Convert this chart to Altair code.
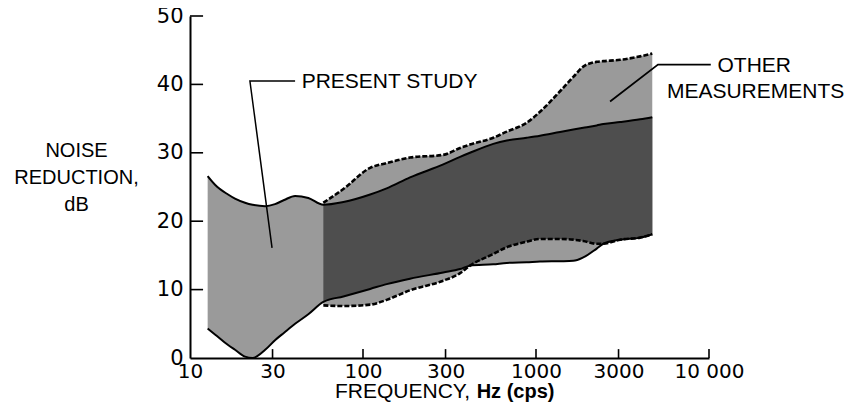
import altair as alt
import pandas as pd
import numpy as np

# ---- data (frequency in Hz, noise reduction in dB) ----
# Present study, low-frequency part (only present study exists here)
low_freq = [12.65, 14, 16.6, 18.2, 20.8, 23, 27.2, 31, 35, 40.5, 48.3]
low_upper = [26.6, 25.3, 23.9, 23.3, 22.7, 22.4, 22.2, 22.5, 23.1, 23.7, 23.4]
low_lower = [4.3, 3.4, 1.9, 1.2, 0.2, 0.0, 1.2, 2.6, 3.7, 5.0, 6.4]

# Common frequencies where both bands exist
freq = [59, 77, 110, 137, 187, 291, 364, 415, 566, 678, 883, 1055, 1377,
        1643, 1876, 2244, 2450, 3063, 4000, 4700]
present_upper = [22.4, 22.8, 23.9, 24.8, 26.4, 28.3, 29.4, 30.0, 31.3, 31.8,
                 32.2, 32.5, 33.05, 33.4, 33.65, 34.0, 34.2, 34.5, 34.9, 35.2]
present_lower = [8.2, 9.0, 10.1, 10.8, 11.6, 12.5, 13.0, 13.5, 13.7, 13.9,
                 14.0, 14.1, 14.15, 14.2, 14.7, 16.0, 16.7, 17.3, 17.6, 18.1]
other_upper = [22.7, 24.7, 27.8, 28.5, 29.3, 29.7, 30.7, 31.2, 32.2, 33.1,
               34.4, 36.0, 39.0, 41.1, 42.6, 43.3, 43.4, 43.6, 44.1, 44.5]
other_lower = [7.7, 7.6, 7.8, 8.5, 9.9, 11.3, 12.4, 13.5, 15.2, 16.2,
               17.0, 17.4, 17.4, 17.3, 17.1, 16.7, 16.7, 17.3, 17.6, 18.1]

# axis ticks
x_tick_values = [10, 30, 100, 300, 1000, 3000, 10000]
x_inner_ticks = [30, 100, 300, 1000, 3000, 10000]
y_tick_values = [0, 10, 20, 30, 40, 50]
y_inner_ticks = [10, 20, 30, 40, 50]

# annotations (data coordinates)
present_leader_f = [40.5, 22.2, 29.8]
present_leader_db = [40.5, 40.5, 16.1]
other_leader_f = [10240, 5070, 2680]
other_leader_db = [42.9, 42.9, 37.5]
label_text = ["PRESENT  STUDY", "OTHER", "MEASUREMENTS", "FREQUENCY,"]
label_f = [44.2, 11200, 5710, 68.9]
label_db = [40.3, 42.7, 38.9, -5.0]
bold_text = ["Hz (cps)"]
bold_f = [454]
bold_db = [-5.0]

# ---- tables ----
present = pd.DataFrame({
    "f": low_freq + freq,
    "lo": low_lower + present_lower,
    "hi": low_upper + present_upper,
})
other = pd.DataFrame({"f": freq, "lo": other_lower, "hi": other_upper})
overlap = pd.DataFrame({
    "f": freq,
    "lo": np.maximum(present_lower, other_lower),
    "hi": np.minimum(present_upper, other_upper),
})
pl = pd.DataFrame({"f": present_leader_f, "db": present_leader_db, "i": range(3)})
ol = pd.DataFrame({"f": other_leader_f, "db": other_leader_db, "i": range(3)})
labels = pd.DataFrame({"f": label_f, "db": label_db, "t": label_text})
blabels = pd.DataFrame({"f": bold_f, "db": bold_db, "t": bold_text})
xt = pd.DataFrame({"f": x_inner_ticks, "y0": [0] * len(x_inner_ticks),
                   "y1": [1.3] * len(x_inner_ticks)})
yt = pd.DataFrame({"db": y_inner_ticks, "f0": [10] * len(y_inner_ticks),
                   "f1": [11.9] * len(y_inner_ticks)})

HATCH = "#9a9a9a"
STIPPLE = "#4e4e4e"

xscale = alt.Scale(type="log", domain=[10, 10000], nice=False)
yscale = alt.Scale(domain=[0, 50], nice=False)

xaxis = alt.Axis(values=x_tick_values, title=None, ticks=False, grid=False,
                 labelExpr="datum.value >= 10000 ? '10 000' : format(datum.value, 'd')",
                 labelFont="DejaVu Sans", labelFontSize=20, labelColor="black",
                 labelPadding=3, domainColor="black", domainWidth=2,
                 labelFlush=False, labelOverlap=False)
yaxis = alt.Axis(values=y_tick_values, ticks=False, grid=False,
                 title=["NOISE", "REDUCTION,", "dB"], titleAngle=0,
                 titleAlign="center", titleBaseline="middle",
                 titleX=-114, titleY=134.5, titleLineHeight=27,
                 titleFont="Liberation Sans", titleFontSize=20,
                 titleFontWeight="normal", titleColor="black",
                 labelFont="DejaVu Sans", labelFontSize=21, labelColor="black",
                 labelPadding=7, domainColor="black", domainWidth=2,
                 labelFlush=False, labelOverlap=False)

present_area = alt.Chart(present).mark_area(
    color=HATCH, interpolate="monotone").encode(
    x=alt.X("f:Q", scale=xscale, axis=xaxis),
    y=alt.Y("lo:Q", scale=yscale, axis=yaxis),
    y2="hi:Q")
other_area = alt.Chart(other).mark_area(
    color=HATCH, interpolate="monotone").encode(x="f:Q", y="lo:Q", y2="hi:Q")
overlap_area = alt.Chart(overlap).mark_area(
    color=STIPPLE, interpolate="monotone").encode(x="f:Q", y="lo:Q", y2="hi:Q")

present_hi = alt.Chart(present).mark_line(
    color="black", strokeWidth=2, interpolate="monotone").encode(x="f:Q", y="hi:Q")
present_lo = alt.Chart(present).mark_line(
    color="black", strokeWidth=2, interpolate="monotone").encode(x="f:Q", y="lo:Q")
other_hi = alt.Chart(other).mark_line(
    color="black", strokeWidth=2.6, strokeDash=[5, 2],
    interpolate="monotone").encode(x="f:Q", y="hi:Q")
other_lo = alt.Chart(other).mark_line(
    color="black", strokeWidth=2.6, strokeDash=[5, 2],
    interpolate="monotone").encode(x="f:Q", y="lo:Q")

pl_line = alt.Chart(pl).mark_line(color="black", strokeWidth=1.5).encode(
    x="f:Q", y="db:Q", order="i:O")
ol_line = alt.Chart(ol).mark_line(color="black", strokeWidth=1.8).encode(
    x="f:Q", y="db:Q", order="i:O")

texts = alt.Chart(labels).mark_text(
    align="left", baseline="middle", font="Liberation Sans", fontSize=21,
    color="black").encode(x="f:Q", y="db:Q", text="t:N")
btexts = alt.Chart(blabels).mark_text(
    align="left", baseline="middle", font="Liberation Sans", fontSize=20,
    fontWeight="bold", color="black").encode(x="f:Q", y="db:Q", text="t:N")

xticks = alt.Chart(xt).mark_rule(color="black", strokeWidth=1.6).encode(
    x="f:Q", y="y0:Q", y2="y1:Q")
yticks = alt.Chart(yt).mark_rule(color="black", strokeWidth=1.6).encode(
    y="db:Q", x="f0:Q", x2="f1:Q")

chart = alt.layer(
    present_area, other_area, overlap_area,
    present_hi, present_lo, other_hi, other_lo,
    pl_line, ol_line, texts, btexts, xticks, yticks,
).properties(
    width=519, height=342,
    autosize=alt.AutoSizeParams(type="none"),
    padding={"left": 182, "top": 8, "right": 138, "bottom": 47},
).configure_view(stroke=None)

chart.save("out.html", embed_options={"renderer": "svg", "actions": False})
